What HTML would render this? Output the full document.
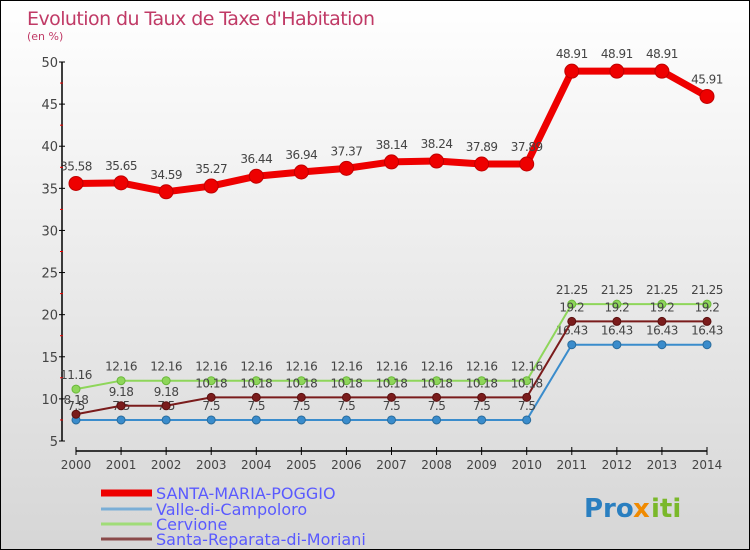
<!DOCTYPE html>
<html><head><meta charset="utf-8"><style>
body{margin:0}
#c{width:750px;height:550px;position:relative;box-sizing:border-box;border:1px solid #000;background:linear-gradient(#fff,#d6d6d6);font-family:"DejaVu Sans","Liberation Sans",sans-serif;overflow:hidden}
svg text{font-family:"DejaVu Sans","Liberation Sans",sans-serif}
</style></head><body>
<div id="c">
<svg width="750" height="550" id="s">
<text x="26" y="24" font-size="19" fill="#c03a66" textLength="348">Evolution du Taux de Taxe d'Habitation</text>
<text x="26" y="39" font-size="11" fill="#c03a66">(en %)</text>
<g id="axes"></g><g id="series"></g><g id="legend"></g>
<g font-size="26" font-weight="bold">
<text x="583" y="516" fill="#2a7fc0">Pro</text><text x="632" y="516" fill="#f08a00">x</text><text x="650" y="516" fill="#7ab82a">iti</text></g>
</svg></div>
<script>
const years=[2000,2001,2002,2003,2004,2005,2006,2007,2008,2009,2010,2011,2012,2013,2014];
const santaMaria=[35.58,35.65,34.59,35.27,36.44,36.94,37.37,38.14,38.24,37.89,37.89,48.91,48.91,48.91,45.91];
const valle=[7.5,7.5,7.5,7.5,7.5,7.5,7.5,7.5,7.5,7.5,7.5,16.43,16.43,16.43,16.43];
const cervione=[11.16,12.16,12.16,12.16,12.16,12.16,12.16,12.16,12.16,12.16,12.16,21.25,21.25,21.25,21.25];
const santaRep=[8.18,9.18,9.18,10.18,10.18,10.18,10.18,10.18,10.18,10.18,10.18,19.2,19.2,19.2,19.2];
const yTicks=[5,10,15,20,25,30,35,40,45,50];
const NS="http://www.w3.org/2000/svg";
function X(i){return 75+i*(706-75)/14}
function Y(v){return 440-(v-5)*(440-61)/45}
function mk(t,a,p){const e=document.createElementNS(NS,t);for(const k in a)e.setAttribute(k,a[k]);p.appendChild(e);return e}
const ax=document.getElementById('axes');
let e=mk('line',{x1:61,y1:Y(50),x2:61,y2:Y(5),stroke:'#000','stroke-width':1.5},ax);


e=mk('line',{x1:X(0)-0,y1:450,x2:X(14),y2:450,stroke:'#000','stroke-width':1.5},ax);


yTicks.forEach(v=>{mk('line',{x1:58,y1:Y(v),x2:64,y2:Y(v),stroke:'#000'},ax);
if(v<50)mk('line',{x1:59,y1:Y(v+2.5),x2:62,y2:Y(v+2.5),stroke:'#e00'},ax);
const t=mk('text',{x:57,y:Y(v)+5,'text-anchor':'end','font-size':13,fill:'#444'},ax);t.textContent=v;

});
years.forEach((yr,i)=>{mk('line',{x1:X(i),y1:446,x2:X(i),y2:454,stroke:'#000'},ax);
const t=mk('text',{x:X(i),y:468,'text-anchor':'middle','font-size':12,fill:'#444'},ax);t.textContent=yr;

});
const sg=document.getElementById('series');
function draw(arr,col,w,r,name,dark){
const g=mk('g',{},sg);


mk('polyline',{points:arr.map((v,i)=>X(i)+','+Y(v)).join(' '),fill:'none',stroke:col,'stroke-width':w,'stroke-linejoin':'round'},g);
arr.forEach((v,i)=>{const c=mk('circle',{cx:X(i),cy:Y(v),r:r,fill:col,stroke:dark,'stroke-width':1},g);


const t=mk('text',{x:X(i),y:Y(v)-(r+6),'text-anchor':'middle','font-size':12,fill:'#444','letter-spacing':'-0.5'},g);t.textContent=v;

});}
draw(valle,'#3a8ccc',2,4,'valle','#2a6c9c');
draw(cervione,'#8ed65a',2,4,'cervione','#6ab83a');
draw(santaRep,'#7a1c1c',2,4,'santa-reparata','#5a1010');
draw(santaMaria,'#ee0000',7,7,'santa-maria','#c00000');
const lg=document.getElementById('legend');
[['SANTA-MARIA-POGGIO','#ee0000',7,492],['Valle-di-Campoloro','#7aaed6',3,508],['Cervione','#a0dc78',3,523],['Santa-Reparata-di-Moriani','#8a4a4a',3,538]].forEach(([n,c,w,y])=>{
const g=mk('g',{},lg);


mk('line',{x1:100,y1:y,x2:151,y2:y,stroke:c,'stroke-width':w},g);
const t=mk('text',{x:155,y:y+6,'font-size':16,fill:'#5a5aff'},g);t.textContent=n;});
</script></body></html>
